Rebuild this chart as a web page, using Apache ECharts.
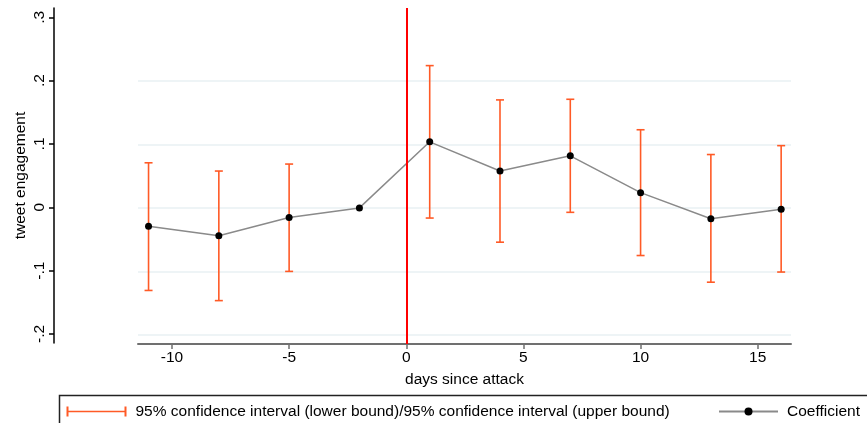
<!DOCTYPE html>
<html>
<head>
<meta charset="utf-8">
<script src="https://cdn.jsdelivr.net/npm/echarts@6/dist/echarts.min.js"></script>
<style>html,body{margin:0;padding:0;background:#fff}#c{width:867px;height:423px}</style>
</head>
<body>
<div id="c"></div>
<script>
var days = [-11, -8, -5, -2, 1, 4, 7, 10, 13, 16];
var coefficient = [-0.029, -0.044, -0.015, 0.000, 0.104, 0.058, 0.082, 0.024, -0.017, -0.002];
var ciLower = [-0.130, -0.146, -0.100, null, -0.016, -0.054, -0.007, -0.075, -0.117, -0.101];
var ciUpper = [0.071, 0.058, 0.069, null, 0.224, 0.170, 0.171, 0.123, 0.084, 0.098];
var xTicks = [-10, -5, 0, 5, 10, 15];
var yTicks = [-0.2, -0.1, 0, 0.1, 0.2, 0.3];
var yGrid = [-0.2, -0.1, 0, 0.1, 0.2];
var attackDay = 0;

var FONT = 'Liberation Sans, Arial, sans-serif';
var FS = 15.5;
var ORANGE = '#ff5a26';
var ciName = '95% confidence interval (lower bound)/95% confidence interval (upper bound)';

var ciData = [];
var lineData = [];
for (var i = 0; i < days.length; i++) {
  lineData.push([days[i], coefficient[i]]);
  if (ciLower[i] != null && ciUpper[i] != null) ciData.push([days[i], ciLower[i], ciUpper[i]]);
}

function fmtY(v) {
  var s = (Math.round(v * 10) / 10).toString();
  return s.replace(/^(-?)0\./, '$1.');
}

var chart = echarts.init(document.getElementById('c'), null, {renderer: 'canvas'});
chart.setOption({
  animation: false,
  textStyle: {fontFamily: FONT},
  grid: [
    {left: 138, right: 76, top: 8, bottom: 79},
    {left: 54, width: 10, top: 8, bottom: 80}
  ],
  xAxis: [
    {
      gridIndex: 0, type: 'value', min: -11.45, max: 16.42,
      axisLine: {show: true, onZero: false, lineStyle: {color: '#707070', width: 2}},
      axisTick: {show: true, customValues: xTicks, length: 5, lineStyle: {color: '#707070', width: 1.5}},
      axisLabel: {customValues: xTicks, color: '#000', fontSize: FS, fontFamily: FONT, margin: 6},
      splitLine: {show: false},
      name: 'days since attack', nameLocation: 'middle', nameGap: 28,
      nameTextStyle: {color: '#000', fontSize: FS, fontFamily: FONT}
    },
    {gridIndex: 1, type: 'value', show: false, min: 0, max: 1}
  ],
  yAxis: [
    {
      gridIndex: 0, type: 'value', min: -0.2143, max: 0.3147,
      axisLine: {show: false},
      axisTick: {show: false, customValues: yGrid},
      axisLabel: {show: false, customValues: yGrid},
      splitLine: {show: true, lineStyle: {color: '#e9f1f3', width: 1.5}}
    },
    {
      gridIndex: 1, type: 'value', min: -0.2143, max: 0.3147, position: 'left',
      axisLine: {show: true, onZero: false, lineStyle: {color: '#000', width: 1.5}},
      axisTick: {show: true, customValues: yTicks, length: 5, inside: false, lineStyle: {color: '#000', width: 1.5}},
      axisLabel: {customValues: yTicks, rotate: 90, color: '#000', fontSize: FS, fontFamily: FONT, margin: 6, formatter: fmtY},
      splitLine: {show: false},
      name: 'tweet engagement', nameLocation: 'middle', nameGap: 25, nameRotate: 90,
      nameTextStyle: {color: '#000', fontSize: FS, fontFamily: FONT}
    }
  ],
  legend: [
    {
      data: [{name: ciName, icon: 'path://M0,0h2v10h-2z M2,4.2h56v1.6h-56z M58,0h2v10h-2z'}],
      left: 66.5, top: 403.5, padding: 0, itemWidth: 60, itemHeight: 10, itemGap: 0,
      textStyle: {color: '#000', fontSize: FS, fontFamily: FONT, padding: [0, 0, 0, 4]},
      selectedMode: false
    },
    {
      data: ['Coefficient'],
      left: 718, top: 403.5, padding: 0, itemWidth: 59, itemHeight: 10, itemGap: 0,
      textStyle: {color: '#000', fontSize: FS, fontFamily: FONT, padding: [0, 0, 0, 4]},
      selectedMode: false
    }
  ],
  graphic: [
    {type: 'rect', shape: {x: 59.5, y: 395.5, width: 900, height: 60}, style: {fill: 'none', stroke: '#222', lineWidth: 1.5}, silent: true}
  ],
  series: [
    {
      name: ciName, type: 'custom', xAxisIndex: 0, yAxisIndex: 0,
      itemStyle: {color: ORANGE},
      data: ciData,
      renderItem: function (params, api) {
        var x = api.value(0);
        var lo = api.coord([x, api.value(1)]);
        var hi = api.coord([x, api.value(2)]);
        var cw = 4;
        var st = {stroke: ORANGE, lineWidth: 1.6};
        return {
          type: 'group',
          children: [
            {type: 'line', shape: {x1: lo[0], y1: lo[1], x2: hi[0], y2: hi[1]}, style: st},
            {type: 'line', shape: {x1: lo[0] - cw, y1: lo[1], x2: lo[0] + cw, y2: lo[1]}, style: st},
            {type: 'line', shape: {x1: hi[0] - cw, y1: hi[1], x2: hi[0] + cw, y2: hi[1]}, style: st}
          ]
        };
      },
      z: 2
    },
    {
      name: 'Coefficient', type: 'line', xAxisIndex: 0, yAxisIndex: 0,
      data: lineData,
      symbol: 'circle', symbolSize: 7,
      lineStyle: {color: '#8a8a8a', width: 1.5},
      itemStyle: {color: '#000'},
      z: 3,
      markLine: {
        silent: true, symbol: 'none',
        label: {show: false},
        lineStyle: {color: '#ff0000', width: 2, type: 'solid'},
        data: [{xAxis: attackDay}]
      }
    }
  ]
});
</script>
</body>
</html>
